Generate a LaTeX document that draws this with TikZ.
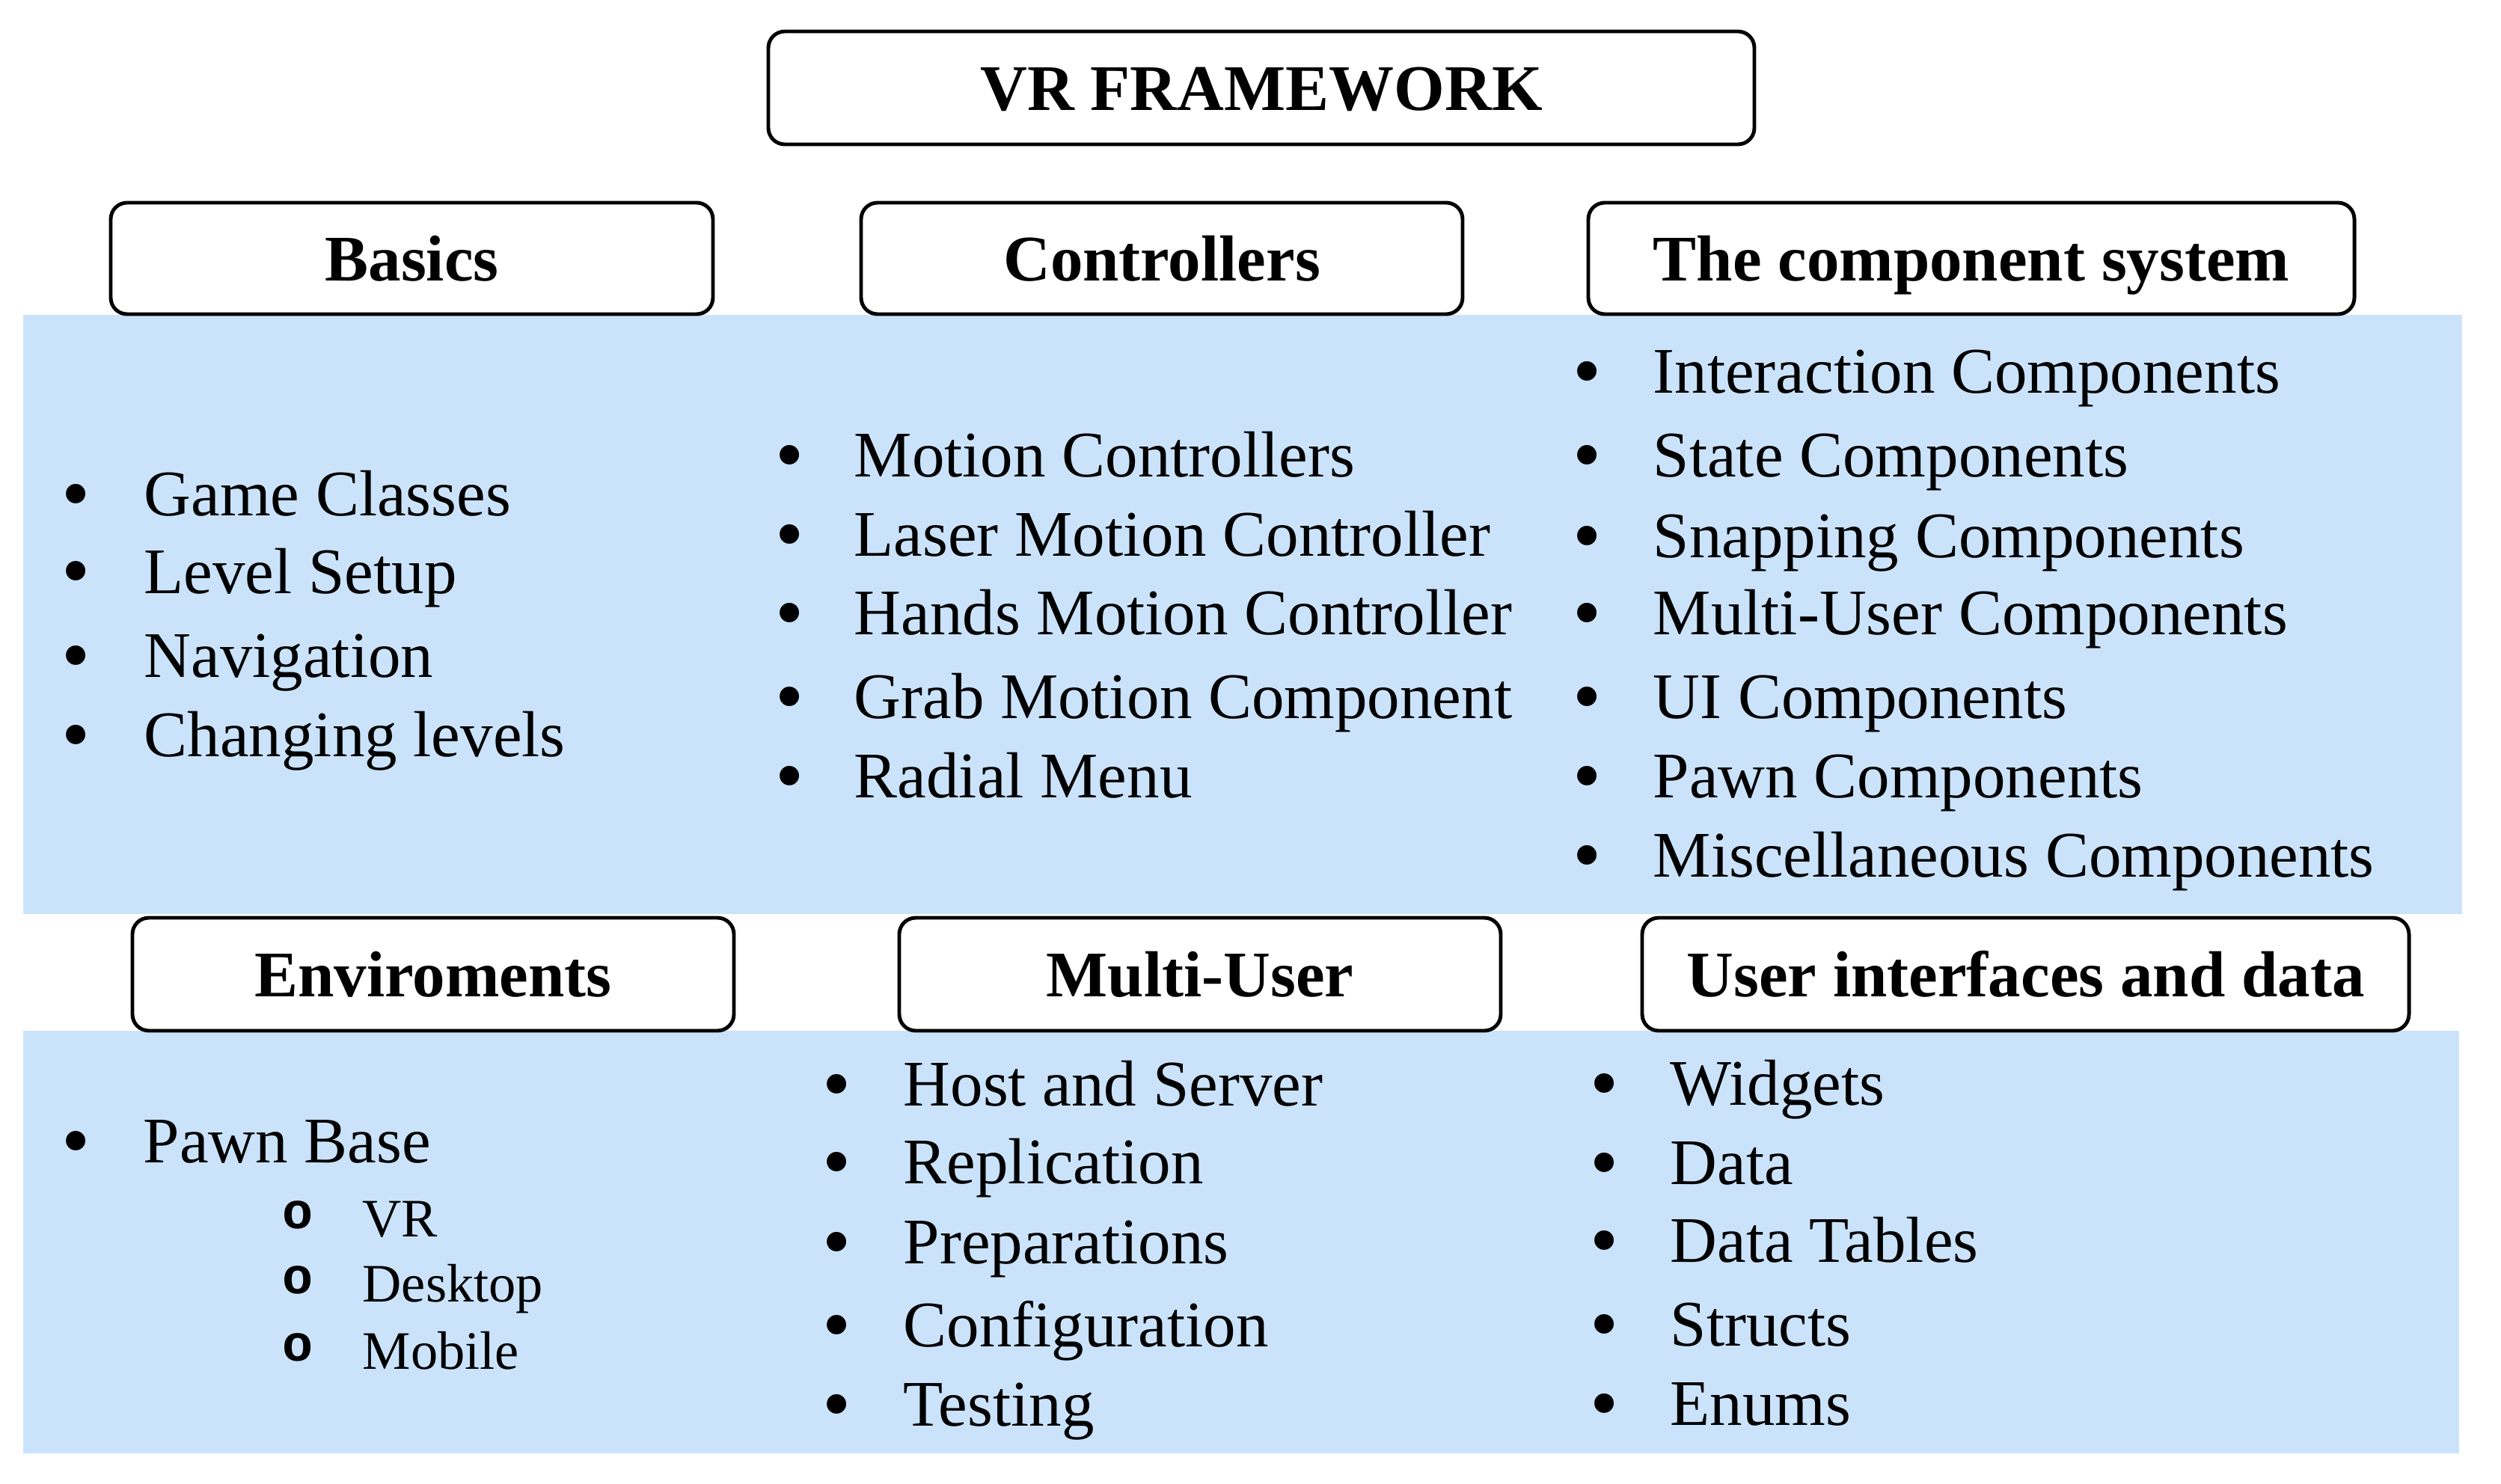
\documentclass[tikz,border=0pt]{standalone}
\usepackage{fontspec}
\setmainfont{Liberation Serif}
\newfontfamily\monofont{Liberation Mono}
\definecolor{cellblue}{RGB}{202,227,251}
\tikzset{
 hdbox/.style={draw=black, line width=1.4pt, rounded corners=0.22cm, fill=white,
   font=\fontsize{24.75}{28}\selectfont\bfseries, text height=0.6cm, text depth=0pt, inner sep=0pt},
 itm/.style={anchor=base west, inner sep=0pt, font=\fontsize{24.75}{28}\selectfont},
 blt/.style={anchor=base, inner sep=0pt, yshift=-0.07cm, font=\fontsize{31}{34}\selectfont},
 sitm/.style={anchor=base west, inner sep=0pt, font=\fontsize{20.6}{24}\selectfont},
 sblt/.style={anchor=base, inner sep=0pt, yshift=0.11cm, font=\fontsize{19.5}{22}\selectfont\monofont\bfseries},
}
\begin{document}
\begin{tikzpicture}[x=1cm,y=-1cm]
\useasboundingbox (0,0) rectangle (33.43,19.84);
% blue cells
\fill[cellblue] (0.31,4.21) rectangle (10.51,12.22);
\fill[cellblue] (10.51,4.21) rectangle (20.53,12.22);
\fill[cellblue] (20.53,4.21) rectangle (32.91,12.22);
\fill[cellblue] (0.31,13.78) rectangle (10.48,19.43);
\fill[cellblue] (10.48,13.78) rectangle (20.70,19.43);
\fill[cellblue] (20.70,13.78) rectangle (32.87,19.43);
% headings
\node[hdbox, minimum width=13.18cm, minimum height=1.51cm] (title) at (16.86,1.175) {VR FRAMEWORK};
\node[hdbox, minimum width=8.05cm, minimum height=1.49cm] (basics) at (5.505,3.455) {Basics};
\node[hdbox, minimum width=8.04cm, minimum height=1.49cm] (ctrl) at (15.53,3.455) {Controllers};
\node[hdbox, minimum width=10.24cm, minimum height=1.49cm] (comp) at (26.35,3.455) {The component system};
\node[hdbox, minimum width=8.04cm, minimum height=1.51cm] (env) at (5.79,13.025) {Enviroments};
\node[hdbox, minimum width=8.04cm, minimum height=1.51cm] (multi) at (16.04,13.025) {Multi-User};
\node[hdbox, minimum width=10.25cm, minimum height=1.51cm] (ui) at (27.075,13.025) {User interfaces and data};
% Basics items
\foreach \y/\t [count=\i] in {6.89/Game Classes, 7.93/Level Setup, 9.05/Navigation, 10.11/Changing levels}{
  \node[blt] (basb\i) at (1.02,\y) {•};
  \node[itm] (bas\i) at (1.92,\y) {\t};
}
% Controllers items
\foreach \y/\t [count=\i] in {6.38/Motion Controllers, 7.43/Laser Motion Controller, 8.48/Hands Motion Controller, 9.60/Grab Motion Component, 10.66/Radial Menu}{
  \node[blt] (ctlb\i) at (10.56,\y) {•};
  \node[itm] (ctl\i) at (11.41,\y) {\t};
}
% Component items
\foreach \y/\t [count=\i] in {5.26/Interaction Components, 6.38/State Components, 7.45/Snapping Components, 8.48/Multi-User Components, 9.60/UI Components, 10.66/Pawn Components, 11.72/Miscellaneous Components}{
  \node[blt] (cmpb\i) at (21.22,\y) {•};
  \node[itm] (cmp\i) at (22.09,\y) {\t};
}
% Enviroments items
\node[blt] (envb1) at (1.02,15.54) {•};
\node[itm] (env1) at (1.91,15.54) {Pawn Base};
\foreach \y/\t [count=\i] in {16.53/VR, 17.40/Desktop, 18.30/Mobile}{
  \node[sblt] (subb\i) at (3.98,\y) {o};
  \node[sitm] (sub\i) at (4.84,\y) {\t};
}
% Multi-User items
\foreach \y/\t [count=\i] in {14.78/Host and Server, 15.82/Replication, 16.89/Preparations, 18.00/Configuration, 19.06/Testing}{
  \node[blt] (mub\i) at (11.19,\y) {•};
  \node[itm] (mu\i) at (12.07,\y) {\t};
}
% UI items
\foreach \y/\t [count=\i] in {14.77/Widgets, 15.83/Data, 16.87/Data Tables, 17.99/Structs, 19.05/Enums}{
  \node[blt] (uib\i) at (21.45,\y) {•};
  \node[itm] (uii\i) at (22.32,\y) {\t};
}
\end{tikzpicture}
\end{document}
